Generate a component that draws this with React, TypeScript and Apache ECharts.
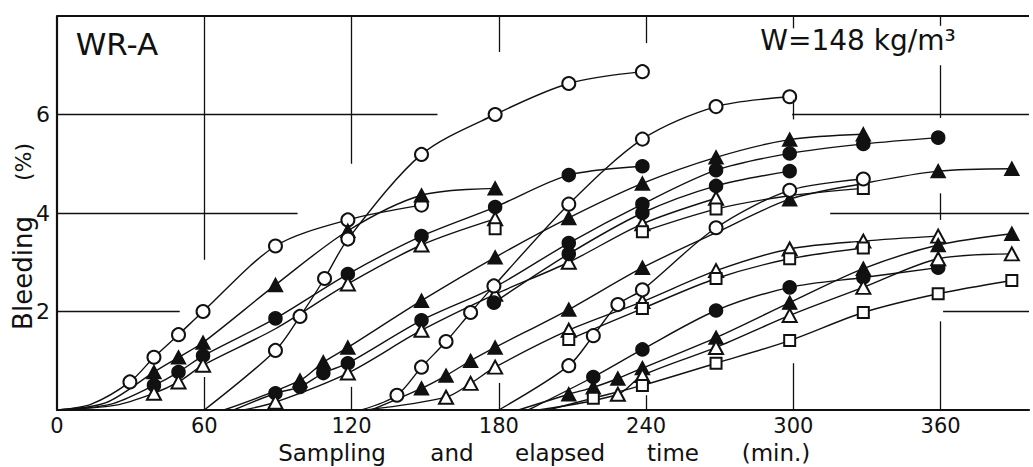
import React, { useEffect, useRef } from "react";
import * as echarts from "echarts";

const FONT = "DejaVu Sans";

const xTicks = [0, 60, 120, 180, 240, 300, 360];
const yTicks = [2, 4, 6];
const xName = ["Sampling", "and", "elapsed", "time", "(min.)"];
const title = "WR-A";
const unitNote = "W=148 kg/m³";

// points: [time (min), bleeding (%), optional 0 = no marker]
// Sample taken at 0 min
const aOpenCircle = [[0, 0, 0], [14, 0.12, 0], [29.7, 0.57], [39.5, 1.07], [49.5, 1.53], [59.5, 2.0], [89, 3.33], [118.5, 3.86], [148.5, 4.16]];
const aFilledTri = [[0, 0, 0], [20, 0.15, 0], [39.5, 0.77], [49.5, 1.07], [59.5, 1.37], [89, 2.54], [118.5, 3.64], [148.5, 4.36], [178.5, 4.5]];
const aFilledCircle = [[0, 0, 0], [22, 0.12, 0], [39.5, 0.5], [49.5, 0.77], [59.5, 1.1], [89, 1.86], [118.5, 2.76], [148.5, 3.53], [178.5, 4.12], [208.5, 4.77], [238.5, 4.95]];
const aOpenTri = [[0, 0, 0], [24, 0.1, 0], [39.5, 0.34], [49.5, 0.57], [59.5, 0.91], [89, 1.65, 0], [118.5, 2.56], [148.5, 3.35], [178.5, 3.88]];
const aOpenSquare = [[178.5, 3.68]];

// Sample taken at 60 min
const bOpenCircle = [[60, 0, 0], [89, 1.21], [99, 1.9], [109, 2.67], [118.5, 3.47], [148.5, 5.19], [178.5, 6.0], [208.5, 6.63], [238.5, 6.87]];
const bFilledTri = [[68, 0, 0], [99, 0.6], [108.5, 0.97], [118.5, 1.27], [148.5, 2.22], [178.5, 3.1], [208.5, 3.9], [238.5, 4.6], [268.5, 5.13], [298.5, 5.49], [328.5, 5.6]];
const bFilledCircle = [[72, 0, 0], [89, 0.34], [99, 0.47], [108.5, 0.75], [118.5, 0.95], [148.5, 1.82], [178.5, 2.5, 0], [208.5, 3.39], [238.5, 4.18], [268.5, 4.87], [298.5, 5.21], [328.5, 5.4], [359, 5.53]];
const bOpenTri = [[76, 0, 0], [89, 0.16], [118.5, 0.75], [148.5, 1.62], [178.5, 2.35], [208.5, 3.0], [238.5, 3.78], [268.5, 4.3]];
const bOpenSquare = [[238.5, 3.62], [268.5, 4.08], [298.5, 4.35, 0], [328.5, 4.5]];

// Sample taken at 120 min
const cOpenCircle = [[124, 0, 0], [138.5, 0.3], [148.5, 0.87], [158.5, 1.39], [168.5, 1.98], [178, 2.52], [208.5, 4.18], [238.5, 5.5], [268.5, 6.16], [298.5, 6.36]];
const cFilledTri = [[128, 0, 0], [148.5, 0.44], [158.5, 0.7], [168.5, 1.0], [178.5, 1.27], [208.5, 2.04], [238.5, 2.89], [268.5, 3.6, 0], [298.5, 4.28], [328.5, 4.6, 0], [359, 4.85], [389, 4.9]];
const cOpenTri = [[126, 0, 0], [158.5, 0.26], [168.5, 0.54], [178.5, 0.87], [208.5, 1.62], [238.5, 2.2], [268.5, 2.83], [298.5, 3.27], [328.5, 3.43], [359, 3.53]];
const cOpenSquare = [[208.5, 1.43], [238.5, 2.06], [268.5, 2.67], [298.5, 3.07], [328.5, 3.29]];
const cFilledCircle = [[178, 2.18], [208.5, 3.17], [238.5, 4.0], [268.5, 4.55], [298.5, 4.85]];

// Sample taken at 180 min
const eOpenCircle = [[180, 0, 0], [208.5, 0.9], [218.5, 1.51], [228.5, 2.14], [238.5, 2.44], [268.5, 3.7], [298.5, 4.46], [328.5, 4.69]];
const eFilledTri = [[188, 0, 0], [208.5, 0.32], [218.5, 0.46], [228.5, 0.64], [238.5, 0.85], [268.5, 1.47], [298.5, 2.18], [328.5, 2.87], [359, 3.35], [389, 3.58]];
const eFilledCircle = [[192, 0, 0], [218.5, 0.67], [238.5, 1.23], [268.5, 2.02], [298.5, 2.49], [328.5, 2.69], [359, 2.89]];
const eOpenTri = [[196, 0, 0], [228.5, 0.32], [238.5, 0.7], [268.5, 1.27], [298.5, 1.92], [328.5, 2.49], [359, 3.07], [389, 3.17]];
const eOpenSquare = [[200, 0, 0], [218.5, 0.24], [238.5, 0.5], [268.5, 0.95], [298.5, 1.41], [328.5, 1.98], [359, 2.36], [389, 2.63]];

// partial grid lines of the original figure: [x1, y1, x2, y2]
const gridSegments = [
  [0, 6, 155, 6], [299.5, 6, 396, 6],
  [0, 4, 98, 4], [315, 4, 396, 4],
  [0, 2, 50, 2], [361, 2, 396, 2],
  [60, 3.05, 60, 8], [60, 0, 60, 0.67],
  [120, 5.0, 120, 8], [120, 0, 120, 0.47],
  [180, 7.27, 180, 8], [180, 0, 180, 0.55],
  [240, 7.45, 240, 8], [240, 0, 240, 0.3],
  [300, 5.9, 300, 6.3], [300, 7.75, 300, 8], [300, 0, 300, 0.95],
  [360, 5.93, 360, 7.0], [360, 7.8, 360, 8], [360, 3.86, 360, 4.4], [360, 0, 360, 1.8],
];
const frameTop = [0, 8, 396, 8];

const SYM: Record<string, { symbol: string; size: number | number[] }> = {
  oc: { symbol: "emptyCircle", size: 13 },
  fc: { symbol: "circle", size: 13 },
  ft: { symbol: "triangle", size: [14, 13] },
  ot: { symbol: "emptyTriangle", size: [14, 13] },
  os: { symbol: "emptyRect", size: 11 },
};

const curves: [number[][], string][] = [
  [aOpenCircle, "oc"], [aFilledTri, "ft"], [aFilledCircle, "fc"], [aOpenTri, "ot"], [aOpenSquare, "os"],
  [bOpenCircle, "oc"], [bFilledTri, "ft"], [bFilledCircle, "fc"], [bOpenTri, "ot"], [bOpenSquare, "os"],
  [cOpenCircle, "oc"], [cFilledTri, "ft"], [cOpenTri, "ot"], [cOpenSquare, "os"], [cFilledCircle, "fc"],
  [eOpenCircle, "oc"], [eFilledTri, "ft"], [eFilledCircle, "fc"], [eOpenTri, "ot"], [eOpenSquare, "os"],
];

export default function App() {
  const ref = useRef<HTMLDivElement>(null);
  useEffect(() => {
    if (!ref.current) return;
    const chart = echarts.init(ref.current, undefined, { renderer: "svg" });
    const ink = "#111";
    const segs: any[] = gridSegments.map((s) => [
      { coord: [s[0], s[1]] },
      { coord: [s[2], s[3]] },
    ]);
    segs.push([
      { coord: [frameTop[0], frameTop[1]], lineStyle: { width: 2.2, color: ink, type: "solid" } },
      { coord: [frameTop[2], frameTop[3]] },
    ]);
    const series: any[] = curves.map(([pts, kind], i) => {
      const s = SYM[kind];
      const base: any = {
        type: "line",
        name: "curve" + i,
        data: pts.map((p) => (p[2] === 0 ? { value: [p[0], p[1]], symbol: "none" } : [p[0], p[1]])),
        smooth: 0.3,
        symbol: s.symbol,
        symbolSize: s.size,
        showAllSymbol: true,
        clip: false,
        lineStyle: { color: ink, width: 1.4 },
        itemStyle: { color: ink, borderColor: ink, borderWidth: 1.5 },
        emphasis: { disabled: true },
        silent: true,
      };
      if (i === 0) {
        base.markLine = {
          silent: true,
          symbol: ["none", "none"],
          label: { show: false },
          lineStyle: { color: ink, width: 1.3, type: "solid" },
          emphasis: { disabled: true },
          data: segs,
        };
      }
      return base;
    });
    chart.setOption({
      animation: false,
      backgroundColor: "#fff",
      grid: { left: 57, right: 4, top: 16, bottom: 57 },
      xAxis: {
        type: "value",
        min: 0,
        max: 396,
        interval: 60,
        axisLine: { show: true, lineStyle: { color: ink, width: 2.2 } },
        axisTick: { show: false },
        splitLine: { show: false },
        axisLabel: {
          color: ink,
          fontFamily: FONT,
          fontSize: 21,
          margin: 5,
          showMaxLabel: false,
          formatter: (v: number) => (xTicks.includes(v) ? String(v) : ""),
        },
      },
      yAxis: {
        type: "value",
        min: 0,
        max: 8,
        interval: 2,
        axisLine: { show: true, lineStyle: { color: ink, width: 2.2 } },
        axisTick: { show: false },
        splitLine: { show: false },
        axisLabel: {
          color: ink,
          fontFamily: FONT,
          fontSize: 22,
          margin: 7,
          formatter: (v: number) => (yTicks.includes(v) ? String(v) : ""),
        },
      },
      graphic: [
        { type: "text", x: 117, y: 44, style: { text: title, fontFamily: FONT, fontSize: 31, fill: ink, textAlign: "center", textVerticalAlign: "middle" } },
        { type: "text", x: 858, y: 40, style: { text: unitNote, fontFamily: FONT, fontSize: 28, fill: ink, textAlign: "center", textVerticalAlign: "middle" } },
        { type: "text", x: 23, y: 273, rotation: Math.PI / 2, style: { text: "Bleeding", fontFamily: FONT, fontSize: 26, fill: ink, textAlign: "center", textVerticalAlign: "middle" } },
        { type: "text", x: 23, y: 162, rotation: Math.PI / 2, style: { text: "(%)", fontFamily: FONT, fontSize: 22, fill: ink, textAlign: "center", textVerticalAlign: "middle" } },
        ...[332, 452, 560, 673, 776].map((cx, i) => ({
          type: "text",
          x: cx,
          y: 453,
          style: { text: xName[i], fontFamily: FONT, fontSize: 23, fill: ink, textAlign: "center", textVerticalAlign: "middle" },
        })),
      ],
      series,
    });
    return () => chart.dispose();
  }, []);
  return <div ref={ref} style={{ position: "fixed", left: 0, top: 0, width: 1033, height: 467 }} />;
}
